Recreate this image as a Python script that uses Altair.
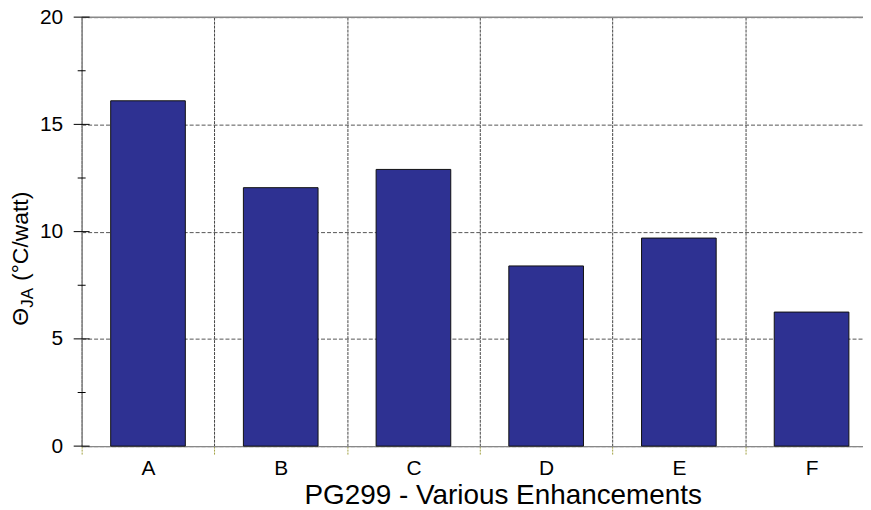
import altair as alt
import pandas as pd

categories = ["A", "B", "C", "D", "E", "F"]
values = [16.1, 12.05, 12.9, 8.4, 9.7, 6.25]
major_ticks = [0, 5, 10, 15, 20]
minor_ticks = [2.5, 7.5, 12.5, 17.5]

FONT = "Liberation Sans"
W = 785
H = 431
BAND_RANGE = 800

df = pd.DataFrame({"cat": categories, "val": values})
xscale = alt.Scale(domain=categories, range=[0, BAND_RANGE], paddingInner=0, paddingOuter=0)
yscale = alt.Scale(domain=[0, 20], nice=False, zero=True)

bars = alt.Chart(df).mark_bar(
    size=75, color="#2E3192", stroke="#111111", strokeWidth=1
).encode(
    x=alt.X("cat:N", scale=xscale, sort=categories, axis=alt.Axis(
        title="PG299 - Various Enhancements",
        titleFont=FONT, titleFontSize=28, titleFontWeight="normal", titleColor="black",
        titleX=423, titleY=58, titleBaseline="alphabetic", titleAlign="center",
        labelFont=FONT, labelFontSize=21, labelColor="black", labelAngle=0, labelPadding=3,
        tickBand="extent", ticks=True, tickSize=9, tickColor="#a0a040", tickDash=[2, 1],
        grid=True, gridColor="#444444", gridDash=[3, 1], gridWidth=1,
        domainColor="#888888", domainWidth=1.5,
    )),
    y=alt.Y("val:Q", scale=yscale, axis=alt.Axis(
        title=None, values=major_ticks,
        labelFont=FONT, labelFontSize=21, labelColor="black", labelPadding=19,
        ticks=False, grid=True, gridColor="#555555", gridDash=[4, 2], gridWidth=1,
        domainColor="#888888", domainWidth=1.5,
    )),
)

top_line = alt.Chart(pd.DataFrame({"v": [20]})).mark_rule(
    color="#888888", strokeWidth=1.5
).encode(y=alt.Y("v:Q", scale=yscale), x=alt.value(0), x2=alt.value(BAND_RANGE))

major_df = pd.DataFrame({"v": major_ticks})
minor_df = pd.DataFrame({"v": minor_ticks})
major_rules = alt.Chart(major_df).mark_rule(color="black", strokeWidth=1).encode(
    y=alt.Y("v:Q", scale=yscale), x=alt.value(-8), x2=alt.value(8))
minor_rules = alt.Chart(minor_df).mark_rule(color="black", strokeWidth=1).encode(
    y=alt.Y("v:Q", scale=yscale), x=alt.value(-4), x2=alt.value(4))

# y-axis title with subscript, built from rotated text pieces
TX = -54
Y0 = 310
theta = alt.Chart(pd.DataFrame({"t": ["Θ"]})).mark_text(
    font=FONT, fontSize=23, angle=270, align="left", baseline="alphabetic", color="black"
).encode(text="t:N", x=alt.value(TX), y=alt.value(Y0))
sub = alt.Chart(pd.DataFrame({"t": ["JA"]})).mark_text(
    font=FONT, fontSize=17, angle=270, align="left", baseline="alphabetic", color="black", dy=5
).encode(text="t:N", x=alt.value(TX), y=alt.value(Y0 - 18))
rest = alt.Chart(pd.DataFrame({"t": ["(°C/watt)"]})).mark_text(
    font=FONT, fontSize=23, angle=270, align="left", baseline="alphabetic", color="black"
).encode(text="t:N", x=alt.value(TX), y=alt.value(Y0 - 18 - 20 - 7))

chart = alt.layer(bars, top_line, major_rules, minor_rules, theta, sub, rest).properties(
    width=W, height=H,
    autosize=alt.AutoSizeParams(type="none"),
    padding={"left": 74, "top": 8, "right": 0, "bottom": 63},
).configure_view(stroke=None).configure(background="white")

chart.save("out.html", embed_options={"renderer": "svg", "actions": False})
